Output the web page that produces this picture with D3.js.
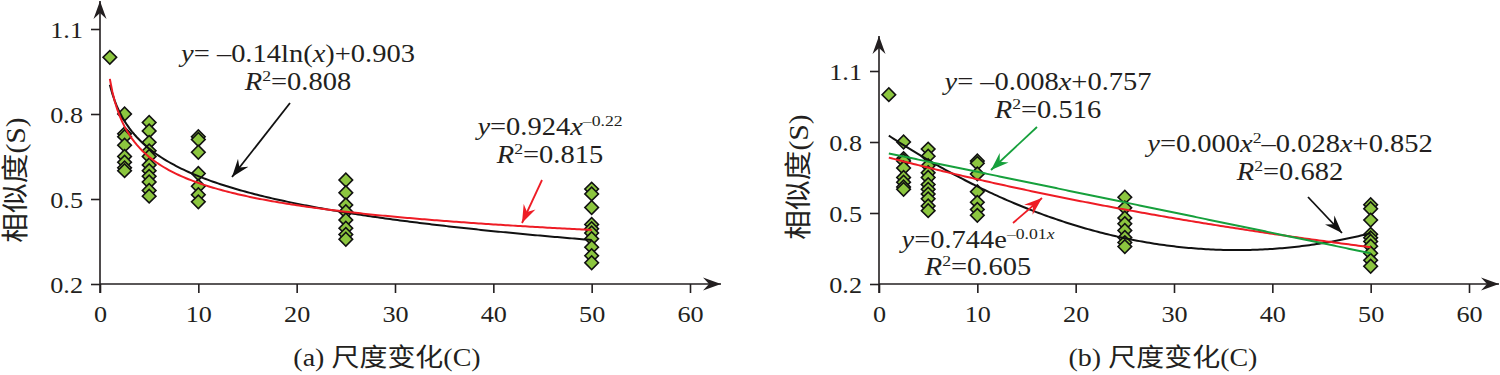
<!DOCTYPE html>
<html lang="zh">
<head>
<meta charset="utf-8">
<title>相似度与尺度变化</title>
<script src="https://d3js.org/d3.v7.min.js"></script>
<style>
  html, body { margin: 0; padding: 0; background: #fff; }
  svg { display: block; }
  text { font-family: "Liberation Serif", "Noto Sans CJK SC", serif; fill: #231f20; }
</style>
</head>
<body>
<svg id="chart" width="1500" height="375"></svg>
<script>
// scale change C and the similarity values measured at each scale
const scales = [1, 2.5, 5, 10, 25, 50];
const simC1 = [1.0];
const simC2 = [0.80, 0.73, 0.72, 0.69, 0.65, 0.63, 0.61, 0.60];
const simC5 = [0.77, 0.74, 0.70, 0.67, 0.65, 0.62, 0.60, 0.58, 0.56, 0.53, 0.51];
const simC10 = [0.72, 0.71, 0.665, 0.59, 0.545, 0.515, 0.49];
const simC25 = [0.567, 0.522, 0.479, 0.455, 0.426, 0.397, 0.375, 0.358];
const simC50 = [0.535, 0.518, 0.47, 0.41, 0.395, 0.38, 0.36, 0.33, 0.30, 0.275];
const simByScale = [simC1, simC2, simC5, simC10, simC25, simC50];

// fitted coefficients
const logFit = [-0.14, 0.903];          // y = a ln(x) + b
const powFit = [0.924, -0.22];          // y = a x^b
const linFit = [-0.0086, 0.760];        // y = a x + b
const expFit = [0.745, -0.0148];        // y = a e^(b x)
const quadFit = [0.000386, -0.0281, 0.8547]; // y = a x^2 + b x + c

const xTicks = [0, 10, 20, 30, 40, 50, 60];
const yTicks = [0.2, 0.5, 0.8, 1.1];

const points = [];
scales.forEach((c, i) => simByScale[i].forEach(v => points.push({ c, v })));

const SX = 1.14; // the original lettering is set a bit wide
const svg = d3.select("#chart");
const defs = svg.append("defs");
function arrowMarker(id, color) {
  defs.append("marker")
    .attr("id", id)
    .attr("markerUnits", "userSpaceOnUse")
    .attr("viewBox", "-18 -7 19 14")
    .attr("markerWidth", 19).attr("markerHeight", 14)
    .attr("refX", 0).attr("refY", 0)
    .attr("orient", "auto")
    .append("path")
    .attr("d", "M0,0 L-18,-6.5 L-12,0 L-18,6.5 Z")
    .attr("fill", color);
}
arrowMarker("ax", "#231f20");
arrowMarker("ak", "#111");
arrowMarker("ar", "#ee1c25");
arrowMarker("ag", "#16a03c");

// write a label made of pieces: [text, "i" italic | "s" superscript | "is" italic superscript]
function richText(g, x, y, parts, size) {
  const t = g.append("text").attr("transform", `translate(${x},${y}) scale(${SX},1)`)
    .attr("text-anchor", "middle").attr("font-size", size);
  let raised = false;
  parts.forEach(p => {
    const [str, st] = Array.isArray(p) ? p : [p, ""];
    const sp = t.append("tspan").text(str);
    if (st.includes("i")) sp.attr("font-style", "italic");
    if (st.includes("s")) {
      sp.attr("font-size", size * 0.62);
      if (!raised) { sp.attr("dy", -size * 0.38); raised = true; }
    } else if (raised) {
      sp.attr("dy", size * 0.38); raised = false;
    }
  });
  return t;
}

function panel(opt) {
  const g = svg.append("g");
  const x = d3.scaleLinear().domain([0, 60]).range(opt.xr);
  const y = d3.scaleLinear().domain([0.2, 1.1]).range(opt.yr);

  // axes
  const xa = g.append("g").attr("transform", `translate(0,${y(0.2)})`)
    .call(d3.axisBottom(x).tickValues(xTicks).tickSize(9).tickSizeOuter(0).tickPadding(13));
  const ya = g.append("g").attr("transform", `translate(${x(0)},0)`)
    .call(d3.axisLeft(y).tickValues(yTicks).tickSize(9).tickSizeOuter(0).tickPadding(8).tickFormat(d3.format(".1f")));
  [xa, ya].forEach(a => {
    a.select(".domain").remove();
    a.selectAll("line").attr("stroke", "#231f20").attr("stroke-width", 1.6);
    a.selectAll("text").attr("font-size", 23).attr("fill", "#231f20")
      .attr("font-family", "Liberation Serif")
      .attr("transform", `scale(${SX},1)`);
  });
  ya.selectAll("text").attr("dy", "0.36em").attr("x", -17 / SX);

  g.append("line").attr("x1", x(0)).attr("y1", y(0.2) + 9).attr("x2", x(0)).attr("y2", opt.yTop)
    .attr("stroke", "#231f20").attr("stroke-width", 1.6).attr("marker-end", "url(#ax)");
  g.append("line").attr("x1", x(0)).attr("y1", y(0.2)).attr("x2", opt.xEnd).attr("y2", y(0.2))
    .attr("stroke", "#231f20").attr("stroke-width", 1.6).attr("marker-end", "url(#ax)");

  g.append("text").attr("transform", `translate(${opt.ylx},${opt.yly}) rotate(-90) scale(1.1,1)`)
    .attr("text-anchor", "middle").attr("font-size", 27).text("相似度(S)");
  g.append("text").attr("transform", `translate(${opt.xlx},366) scale(1.12,1)`)
    .attr("text-anchor", "middle").attr("font-size", 25).text(opt.xlabel);

  // data points
  g.append("g").selectAll("path").data(points).join("path")
    .attr("transform", d => `translate(${x(d.c)},${y(d.v)}) rotate(45)`)
    .attr("d", d3.symbol().type(d3.symbolSquare).size(92))
    .attr("fill", "#8cc63f").attr("stroke", "#111").attr("stroke-width", 1.6);

  // fitted curves
  const xs = d3.range(1, 50.001, 0.25);
  const line = d3.line().x(d => x(d[0])).y(d => y(d[1]));
  opt.curves.forEach(cv => {
    g.append("path").datum(xs.map(v => [v, cv.f(v)])).attr("d", line)
      .attr("fill", "none").attr("stroke", cv.color).attr("stroke-width", 2);
  });

  opt.notes.forEach(n => {
    richText(g, n.x, n.y1, n.l1, 25);
    richText(g, n.x, n.y2, n.l2, 25);
    g.append("line").attr("x1", n.a[0]).attr("y1", n.a[1]).attr("x2", n.a[2]).attr("y2", n.a[3])
      .attr("stroke", n.color).attr("stroke-width", 1.8).attr("marker-end", `url(#${n.marker})`);
  });
}

panel({
  xr: [100, 690], yr: [284, 29], yTop: 1, xEnd: 721,
  ylx: 25, yly: 180, xlx: 387, xlabel: "(a) 尺度变化(C)",
  curves: [
    { color: "#111", f: c => logFit[0] * Math.log(c) + logFit[1] },
    { color: "#ee1c25", f: c => powFit[0] * Math.pow(c, powFit[1]) }
  ],
  notes: [
    { x: 298, y1: 62, y2: 90, color: "#111", marker: "ak", a: [290, 103, 232, 177],
      l1: [["y", "i"], "= \u20130.14ln(", ["x", "i"], ")+0.903"], l2: [["R", "i"], ["2", "s"], "=0.808"] },
    { x: 550, y1: 135, y2: 163, color: "#ee1c25", marker: "ar", a: [542, 180, 522, 223],
      l1: [["y", "i"], "=0.924", ["x", "i"], ["\u20130.22", "s"]], l2: [["R", "i"], ["2", "s"], "=0.815"] }
  ]
});

panel({
  xr: [879, 1469], yr: [284, 71], yTop: 36, xEnd: 1499,
  ylx: 808, yly: 177, xlx: 1163, xlabel: "(b) 尺度变化(C)",
  curves: [
    { color: "#111", f: c => quadFit[0] * c * c + quadFit[1] * c + quadFit[2] },
    { color: "#ee1c25", f: c => expFit[0] * Math.exp(expFit[1] * c) },
    { color: "#16a03c", f: c => linFit[0] * c + linFit[1] }
  ],
  notes: [
    { x: 1048, y1: 90, y2: 118, color: "#16a03c", marker: "ag", a: [1037, 127, 991, 170],
      l1: [["y", "i"], "= \u20130.008", ["x", "i"], "+0.757"], l2: [["R", "i"], ["2", "s"], "=0.516"] },
    { x: 978, y1: 248, y2: 275, color: "#ee1c25", marker: "ar", a: [1013, 223, 1042, 198],
      l1: [["y", "i"], "=0.744e", ["\u20130.01", "s"], ["x", "is"]], l2: [["R", "i"], ["2", "s"], "=0.605"] },
    { x: 1290, y1: 152, y2: 180, color: "#111", marker: "ak", a: [1308, 197, 1342, 233],
      l1: [["y", "i"], "=0.000", ["x", "i"], ["2", "s"], "\u20130.028", ["x", "i"], "+0.852"], l2: [["R", "i"], ["2", "s"], "=0.682"] }
  ]
});
</script>
</body>
</html>
